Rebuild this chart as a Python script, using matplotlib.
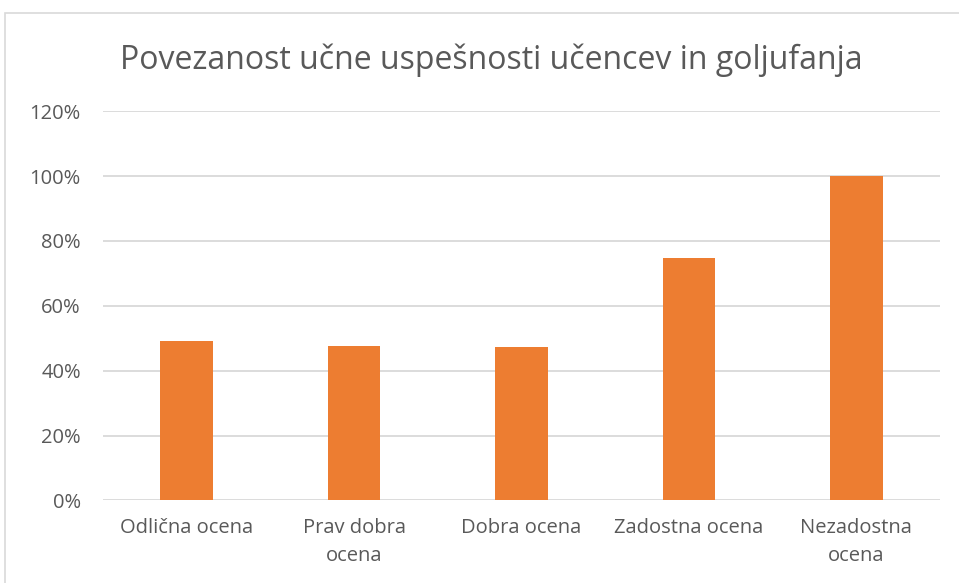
import matplotlib
matplotlib.use("Agg")
import matplotlib.pyplot as plt
from matplotlib.patches import Rectangle
from matplotlib.ticker import PercentFormatter

categories = ["Odlična ocena", "Prav dobra\nocena", "Dobra ocena", "Zadostna ocena", "Nezadostna\nocena"]
values = [49.2, 47.6, 47.2, 74.7, 100.0]
yticks = [0, 20, 40, 60, 80, 100, 120]
title = "Povezanost učne uspešnosti učencev in goljufanja"

plt.rcParams['font.family'] = ['Open Sans', 'DejaVu Sans']

fig = plt.figure(figsize=(9.59, 5.83), dpi=100)
W, H = 959, 583
ax = fig.add_axes([103 / W, 1 - 500.4 / H, (940 - 103) / W, (500.4 - 111.2) / H])

x = range(len(categories))
ax.bar(x, values, width=0.315, color="#ED7D31", zorder=3)
ax.set_xlim(-0.5, len(categories) - 0.5)
ax.set_ylim(0, 120)
ax.set_yticks(yticks)
ax.yaxis.set_major_formatter(PercentFormatter(decimals=0))
ax.set_xticks(list(x))
ax.set_xticklabels(categories, linespacing=1.5)
ax.grid(axis="y", color="#d9d9d9", linewidth=1.3, zorder=0)
for s in ax.spines.values():
    s.set_visible(False)
ax.tick_params(axis="both", length=0, colors="#595959", labelsize=14.5)
ax.tick_params(axis="x", pad=13)
ax.tick_params(axis="y", pad=16)

fig.text(491 / W, 1 - 60 / H, title, ha="center", va="center", fontsize=23, color="#595959")

fig.patches.append(Rectangle((5 / W, -0.01), 1.0, 1 - 13 / H + 0.01, transform=fig.transFigure,
                             fill=False, edgecolor="#d9d9d9", linewidth=1.2))

fig.savefig("out.png", dpi=100)
